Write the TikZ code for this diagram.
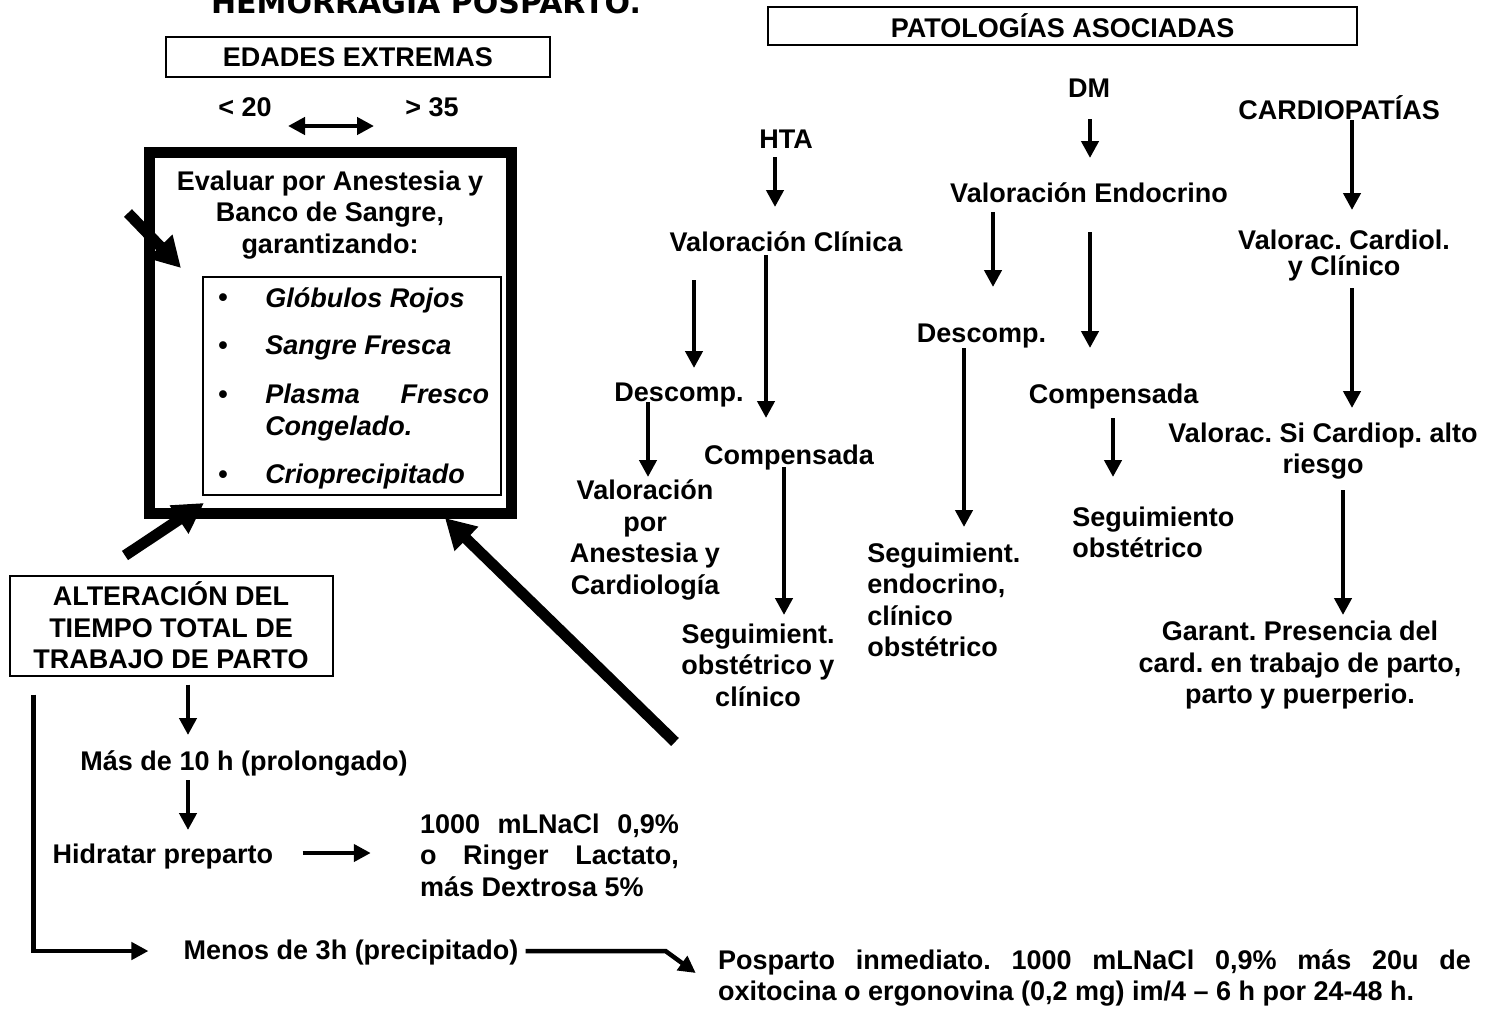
\documentclass[tikz,border=0pt]{standalone}
\usepackage{fontspec}
\setmainfont{Liberation Sans}
\newfontfamily\titlefont{DejaVu Sans}
\usetikzlibrary{arrows.meta,calc}
\frenchspacing

\tikzset{every picture/.style={line width=4.5pt}}
\tikzset{
  txt/.style={inner sep=0pt, align=center, font=\fontsize{27}{31.5}\selectfont\bfseries},
  itm/.style={inner sep=0pt, anchor=west, font=\fontsize{27}{31.5}\selectfont\bfseries\itshape},
  tbox/.style={draw, line width=2pt, inner sep=0pt, outer sep=0pt},
  arr/.style={line width=4.5pt, -{Triangle[length=17pt,width=17pt]}},
  dblarr/.style={line width=4.5pt, {Triangle[length=17pt,width=17pt]}-{Triangle[length=17pt,width=17pt]}},
  fatarr/.style={line width=11pt, -{Triangle[length=30pt,width=32pt]}},
}

\begin{document}
\begin{tikzpicture}[x=1pt,y=1pt,yscale=-1,xscale=1]
\useasboundingbox (0,0) rectangle (1495,1009);

% Title
\node[inner sep=0pt, anchor=base, font=\titlefont\fontsize{30}{36}\selectfont\bfseries] (title) at (426,13) {HEMORRAGIA POSPARTO.};

%%% left block: edades extremas
% Text Node
\node[tbox, txt, minimum width=384pt, minimum height=40pt] (edades) at (358,57) {EDADES EXTREMAS};
% Text Node
\node[txt] (menor) at (245,107) {< 20};
% Text Node
\node[txt] (mayor) at (432,107) {> 35};
%Straight Lines
\draw[dblarr] ($(menor)+(43,19)$) -- ($(mayor)+(-58,19)$);

% thick frame and its text
\node[draw, line width=11pt, inner sep=0pt, outer sep=0pt, minimum width=362pt, minimum height=361pt] (evalbox) at (330,332.5) {};
% Text Node
\node[txt] (evaluar) at (330,215) {Evaluar por Anestesia y\\Banco de Sangre,\\garantizando:};
% list frame
\node[draw, line width=1.5pt, inner sep=0pt, outer sep=0pt, minimum width=298pt, minimum height=218pt] (lista) at (352,386) {};
\node[txt] (b1) at (223,300) {\textbullet};
\node[txt] (b2) at (223,348) {\textbullet};
\node[txt] (b3) at (223,397) {\textbullet};
\node[txt] (b4) at (223,477) {\textbullet};
\node[itm] (globulos) at (263,300) {Glóbulos Rojos};
\node[itm] (sangre) at (263,348) {Sangre Fresca};
\node[itm, text width=224pt, align=left] (plasma) at (263,412.5) {Plasma\hfill Fresco\\Congelado.};
\node[itm] (crio) at (263,477) {Crioprecipitado};

%%% alteracion del tiempo
% Text Node
\node[tbox, txt, minimum width=323pt, minimum height=100pt] (alter) at (171,625.5) {ALTERACIÓN DEL\\TIEMPO TOTAL DE\\TRABAJO DE PARTO};
% Text Node
\node[txt] (mas) at (244,763) {Más de 10 h (prolongado)};
% Text Node
\node[txt] (hidratar) at (163,857) {Hidratar preparto};
% Text Node
\node[txt, text width=259pt, align=justify] (nacl) at (549.5,855) {1000 mLNaCl 0,9\%\linebreak o Ringer Lactato,\linebreak más Dextrosa 5\%};
% Text Node
\node[txt] (menos) at (351,953) {Menos de 3h (precipitado)};
% Text Node
\node[txt, text width=753pt, align=justify] (posparto) at (1094.5,978) {Posparto inmediato. 1000 mLNaCl 0,9\% más 20u de\linebreak oxitocina o ergonovina (0,2 mg) im/4 – 6 h por 24-48 h.};

%Straight Lines
\draw[arr] ($(alter.south)+(17,9)$) -- ($(mas)+(-56,-28)$);
\draw[arr] ($(mas)+(-56,17)$) -- ($(hidratar)+(25,-27)$);
\draw[arr] ($(hidratar.east)+(27,-4)$) -- ($(nacl.west)+(-47,-2)$);
\draw[arr] ($(alter.south west)+(24,19)$) |- ($(menos.west)+(-33,-2)$);
\draw[arr] ($(menos.east)+(5,-2)$) -- ++(140,0) -- ($(posparto.west)+(-20,-5)$);

% thick arrows into the frame
\coordinate (f1) at (128,213);
\coordinate (f3) at (675,742);
\draw[fatarr] (f1) -- ($(evalbox.north west)+(32,116)$);
\draw[fatarr] ($(alter.north)+(-46,-20)$) -- ($(evalbox.south west)+(55,-10)$);
\draw[fatarr] (f3) -- ($(evalbox.south east)+(-66,5)$);

%%% right block: patologias asociadas
% Text Node
\node[tbox, txt, minimum width=589pt, minimum height=38pt] (patol) at (1062.5,26) {PATOLOGÍAS ASOCIADAS};
% Text Node
\node[txt] (hta) at (786,139.5) {HTA};
\node[txt] (dm) at (1089,88) {DM};
\node[txt] (cardio) at (1339,107.5) {CARDIOPATÍAS};
% Text Node
\node[txt] (vclin) at (786,242) {Valoración Clínica};
\node[txt] (vendo) at (1089,193) {Valoración Endocrino};
\node[txt, font=\fontsize{27}{26}\selectfont\bfseries] (vcard) at (1344,256) {Valorac. Cardiol.\\y Clínico};
% Text Node
\node[txt] (deshta) at (679,395) {Descomp.};
\node[txt] (comphta) at (789,458) {Compensada};
\node[txt] (desdm) at (981.5,336) {Descomp.};
\node[txt] (compdm) at (1113.6,397) {Compensada};
\node[txt] (valsi) at (1323,451) {Valorac. Si Cardiop. alto\\riesgo};
% Text Node
\node[txt] (valanes) at (645,540) {Valoración\\por\\Anestesia y\\Cardiología};
\node[txt] (seghta) at (758,665) {Seguimient.\\obstétrico y\\clínico};
\node[txt, align=left, anchor=west] (segendo) at (865,600) {Seguimient.\\endocrino,\\clínico\\obstétrico};
\node[txt, align=left, anchor=west] (segobs) at (1070,532.5) {Seguimiento\\obstétrico};
\node[txt] (garant) at (1300,665.5) {Garant. Presencia del\\card. en trabajo de parto,\\parto y puerperio.};

%Straight Lines
\draw[arr] ($(hta)+(-11,17.5)$) -- ($(vclin)+(-11,-35)$);
\draw[arr] ($(dm)+(1,31)$) -- ($(vendo)+(1,-35)$);
\draw[arr] ($(cardio)+(13,12.5)$) -- ($(vcard)+(8,-46)$);
\draw[arr] ($(vclin)+(-92,38)$) -- ($(deshta)+(15,-27)$);
\draw[arr] ($(vclin)+(-20,13)$) -- ($(comphta)+(-23,-40)$);
\draw[arr] ($(deshta)+(-31,7)$) -- ($(valanes)+(3,-63)$);
\draw[arr] ($(comphta)+(-5,9)$) -- ($(seghta)+(26,-50)$);
\draw[arr] ($(vendo)+(-96,19)$) -- ($(desdm)+(11.5,-49)$);
\draw[arr] ($(vendo)+(1,39)$) -- ($(compdm)+(-23.6,-49)$);
\draw[arr] ($(desdm)+(-17.5,12)$) -- ($(segendo.west)+(99,-73)$);
\draw[arr] ($(compdm)+(-0.6,21)$) -- ($(segobs.west)+(43,-55.5)$);
\draw[arr] ($(vcard)+(8,32)$) -- ($(valsi)+(29,-43)$);
\draw[arr] ($(valsi)+(20,39)$) -- ($(garant)+(43,-50.5)$);

\end{tikzpicture}
\end{document}
